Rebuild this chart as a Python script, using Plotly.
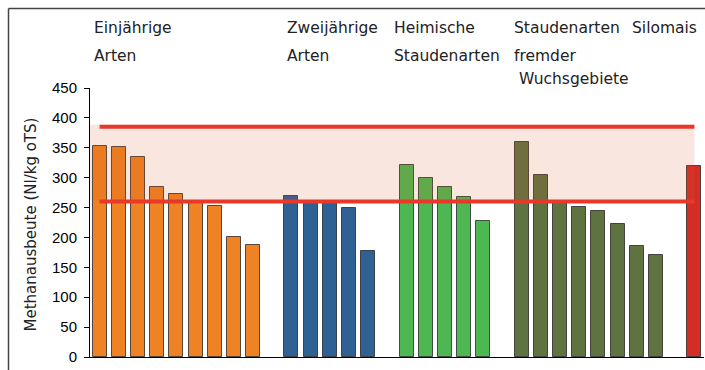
import plotly.graph_objects as go

# ---------------- data ----------------
einjaehrige = [353, 351, 334, 285, 273, 260, 253, 200, 187]
zweijaehrige = [269, 260, 259, 249, 177]
heimische = [321, 299, 284, 268, 228]
fremde = [360, 304, 258, 251, 245, 222, 185, 171]
silomais = [319]

group_labels = [
    ["Einjährige", "Arten"],
    ["Zweijährige", "Arten"],
    ["Heimische", "Staudenarten"],
    ["Staudenarten", "fremder", " Wuchsgebiete"],
    ["Silomais"],
]
group_colors = ["#EE8224", "#2F6195", "#4DB852", "#5F7341", "#D32E26"]

range_low = 260
range_high = 385
band_low = 262
band_high = 389

y_ticks = [0, 50, 100, 150, 200, 250, 300, 350, 400, 450]
y_title = "Methanausbeute (Nl/kg oTS)"

groups = [einjaehrige, zweijaehrige, heimische, fremde, silomais]

# ---------------- layout constants ----------------
W, H = 705, 370
ML, MR, MT, MB = 90, 1, 88, 13
PW = W - ML - MR
PH = H - MT - MB


def xp(px):
    return (px - ML) / PW


def yp(py):
    return (H - MB - py) / PH


fig = go.Figure()

pos = 0
first_x = []
for vals, col in zip(groups, group_colors):
    xs = list(range(pos, pos + len(vals)))
    first_x.append(xs[0])
    fig.add_trace(go.Bar(
        x=xs, y=vals, width=0.73,
        marker=dict(color=col, line=dict(color="rgba(30,30,30,0.75)", width=1)),
        showlegend=False,
    ))
    pos += len(vals) + 1
last_x = pos - 2

# band and reference lines
fig.add_shape(type="rect", xref="x", yref="y", x0=-0.6, x1=last_x, y0=band_low, y1=band_high,
              fillcolor="rgba(215,88,35,0.15)", line=dict(width=0), layer="above")
for v in (range_low, range_high):
    fig.add_shape(type="line", xref="x", yref="y", x0=0, x1=last_x, y0=v, y1=v,
                  line=dict(color="#E8382A", width=4), layer="above")

# frame lines (top and left)
fig.add_shape(type="line", xref="paper", yref="paper", x0=xp(8.5), x1=xp(706), y0=yp(8.5), y1=yp(8.5),
              line=dict(color="#444444", width=1.5))
fig.add_shape(type="line", xref="paper", yref="paper", x0=xp(8.5), x1=xp(8.5), y0=yp(8.5), y1=yp(371),
              line=dict(color="#444444", width=1.5))

# group labels
label_font = dict(family="DejaVu Sans", size=15.5, color="#222222")
label_px = [
    [(92, 28), (92, 56)],
    [(285, 28), (285, 56)],
    [(392, 28), (392, 56)],
    [(512, 28), (512, 56), (512, 79.5)],
    [(630, 28)],
]
for lines, pxs in zip(group_labels, label_px):
    for txt, (px, py) in zip(lines, pxs):
        fig.add_annotation(text=txt, x=xp(px), y=yp(py), xref="paper", yref="paper",
                           xanchor="left", yanchor="middle", showarrow=False, font=label_font)

# y axis title
fig.add_annotation(text=y_title, x=xp(30), y=yp(224.5), xref="paper", yref="paper",
                   textangle=-90, xanchor="center", yanchor="middle", showarrow=False,
                   font=dict(family="DejaVu Sans", size=15, color="#222222"))

fig.update_layout(
    width=W, height=H,
    margin=dict(l=ML, r=MR, t=MT, b=MB),
    paper_bgcolor="white", plot_bgcolor="white",
    bargap=0,
    xaxis=dict(range=[-0.5, last_x + 0.5], showticklabels=False, ticks="", showgrid=False,
               zeroline=False, showline=True, linecolor="black", linewidth=1),
    yaxis=dict(range=[0, 450], tickvals=y_ticks, ticks="outside", ticklen=5, tickcolor="black",
               showgrid=False, zeroline=False, showline=True, linecolor="black", linewidth=1,
               tickfont=dict(family="Liberation Sans", size=15, color="black"),
               ticklabelstandoff=4),
)

fig.write_html("out.html")
